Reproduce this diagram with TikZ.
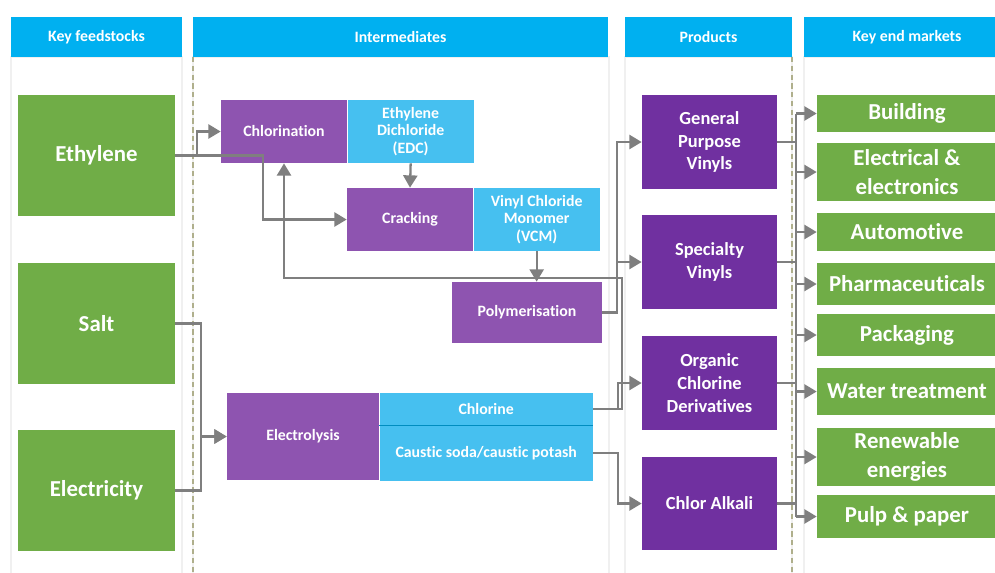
\documentclass[tikz,border=0pt]{standalone}
\usepackage{fontspec}
\setmainfont{Carlito}[Ligatures=NoCommon]
\usetikzlibrary{positioning, arrows.meta}
\definecolor{headblue}{RGB}{0,176,240}
\definecolor{feedgreen}{RGB}{112,173,71}
\definecolor{stepviolet}{RGB}{142,84,176}
\definecolor{prodviolet}{RGB}{112,48,160}
\definecolor{midblue}{RGB}{70,192,240}
\definecolor{linegray}{RGB}{127,127,127}
\definecolor{dasholive}{RGB}{175,175,140}

\begin{document}
\begin{tikzpicture}[
        x=0.02cm, y=-0.02cm,
        % Bandeaux de titre
        headBar/.style={
            fill=headblue,
            text=white,
            minimum height=0.8cm,
            inner sep=0pt,
            font=\fontsize{9}{10}\selectfont\bfseries
        },
        % Colonnes en fond
        panel/.style={draw=gray!12, line width=0.6pt},
        dashLine/.style={draw=dasholive, line width=0.6pt, dash pattern=on 3pt off 2pt},
        % Matières premières
        feedBox/.style={
            fill=feedgreen,
            text=white,
            minimum width=3.14cm,
            minimum height=2.42cm,
            align=center,
            font=\fontsize{13}{15}\selectfont\bfseries
        },
        % Étapes intermédiaires
        stepBox/.style={
            fill=stepviolet,
            text=white,
            minimum width=2.52cm,
            minimum height=1.26cm,
            inner sep=1pt,
            align=center,
            font=\fontsize{9}{10}\selectfont\bfseries
        },
        midBox/.style={
            stepBox,
            fill=midblue
        },
        % Produits
        prodBox/.style={
            fill=prodviolet,
            text=white,
            minimum width=2.7cm,
            minimum height=1.88cm,
            align=center,
            font=\fontsize{10.5}{13}\selectfont\bfseries
        },
        % Marchés finaux
        marketBox/.style={
            fill=feedgreen,
            text=white,
            minimum width=3.6cm,
            inner sep=0pt,
            align=center,
            font=\fontsize{13}{16.4}\selectfont\bfseries
        },
        link/.style={draw=linegray, line width=1.3pt},
        flow/.style={link, -{Triangle[length=7pt, width=8pt]}}
    ]

    % Cadre
    \fill[white] (0,0) rectangle (995,572);
    \useasboundingbox (0,0) rectangle (995,572);
    \clip (0,0) rectangle (995,572);

    % Colonnes
    \foreach \a/\b in {11/182, 193/609, 625/792, 804/1010}
        \draw[panel] (\a,57) rectangle (\b,600);
    \draw[dashLine] (193,57) -- (193,572);
    \draw[dashLine] (792,57) -- (792,572);

    % Titres
    \node[headBar, minimum width=3.42cm] (hFeed) at (96.5,37) {Key feedstocks};
    \node[headBar, minimum width=8.3cm] (hInter) at (400.5,37) {Intermediates};
    \node[headBar, minimum width=3.34cm] (hProd) at (708.5,37) {Products};
    \node[headBar, minimum width=4.12cm] (hMarket) at (907,37) {Key end markets};

    % Matières premières
    \node[feedBox] (eth) at (96.5,155.5) {Ethylene};
    \node[feedBox] (salt) at (96.5,323.5) {Salt};
    \node[feedBox] (power) at (96.5,490.5) {Electricity};

    % Intermédiaires
    \node[stepBox] (chlor) at (284,131.5) {Chlorination};
    \node[midBox] (edc) [right=0pt of chlor] {Ethylene\\Dichloride\\(EDC)};
    \node[stepBox] (crack) at (410,219.5) {Cracking};
    \node[midBox] (vcm) [right=0pt of crack] {Vinyl Chloride\\Monomer\\(VCM)};
    \node[stepBox, minimum width=3cm, minimum height=1.22cm] (poly) at (527,312.5) {Polymerisation};
    \node[stepBox, minimum width=3.04cm, minimum height=1.74cm] (elec) at (303,436.5) {Electrolysis};
    \node[midBox, minimum width=4.26cm, minimum height=0.64cm] (chlorine)
        [right=0pt of elec.north east, anchor=north west] {Chlorine};
    \node[midBox, minimum width=4.26cm, minimum height=1.1cm] (caustic)
        [below=0pt of chlorine] {Caustic soda/caustic potash};
    \draw[draw=headblue!80!black, line width=0.5pt] (chlorine.south west) -- (chlorine.south east);

    % Produits
    \node[prodBox] (gp) at (709.5,142) {General\\Purpose\\Vinyls};
    \node[prodBox] (spec) at (709.5,262) {Specialty\\Vinyls};
    \node[prodBox] (org) at (709.5,383) {Organic\\Chlorine\\Derivatives};
    \node[prodBox] (ca) at (709.5,503.5) {Chlor Alkali};

    % Marchés
    \node[marketBox, minimum height=0.74cm] (bld) at (907,113.5) {Building};
    \node[marketBox, minimum height=1.16cm] (elc) at (907,172) {Electrical \&\\electronics};
    \node[marketBox, minimum height=0.76cm] (aut) at (907,232) {Automotive};
    \node[marketBox, minimum height=0.84cm] (pha) at (907,284) {Pharmaceuticals};
    \node[marketBox, minimum height=0.84cm] (pck) at (907,335) {Packaging};
    \node[marketBox, minimum height=0.94cm] (wat) at (907,391.5) {Water treatment};
    \node[marketBox, minimum height=1.16cm] (ren) at (907,457) {Renewable\\energies};
    \node[marketBox, minimum height=0.86cm] (pulp) at (907,516.5) {Pulp \& paper};

    % Flèches des matières premières
    \draw[flow] (eth.east) -- ++(22,0) |- (chlor.west);
    \draw[flow] (eth.east) -- ++(88,0) |- (crack.west);
    \draw[flow] (salt.east) -- ++(26,0) |- (elec.west);
    \draw[flow] (power.east) -- ++(26,0) |- (elec.west);

    % Flèches internes
    \draw[flow] (edc.south) -- (crack.north);
    \draw[flow] (vcm.south) -- (vcm.south |- poly.north);
    \draw[flow] (chlorine.east) -- ++(29,0) -- ++(0,-131) -| (chlor.south);

    % Vers les produits
    \draw[flow] (poly.east) -- ++(15,0) |- (gp.west);
    \draw[flow] (poly.east) -- ++(15,0) |- (spec.west);
    \draw[flow] (chlorine.east) -- ++(25,0) |- (org.west);
    \draw[flow] (caustic.east) -- ++(25,0) |- (ca.west);

    % Vers les marchés
    \coordinate (bus) at (796,0);
    \foreach \p in {gp, spec, org, ca}
        \draw[link] (\p.east) -- (bus |- \p.east);
    \draw[link] (bus |- bld.west) -- (bus |- pulp.west);
    \foreach \m in {bld, elc, aut, pha, pck, wat, ren, pulp}
        \draw[flow] (bus |- \m.west) -- (\m.west);

    \end{tikzpicture}
\end{document}
